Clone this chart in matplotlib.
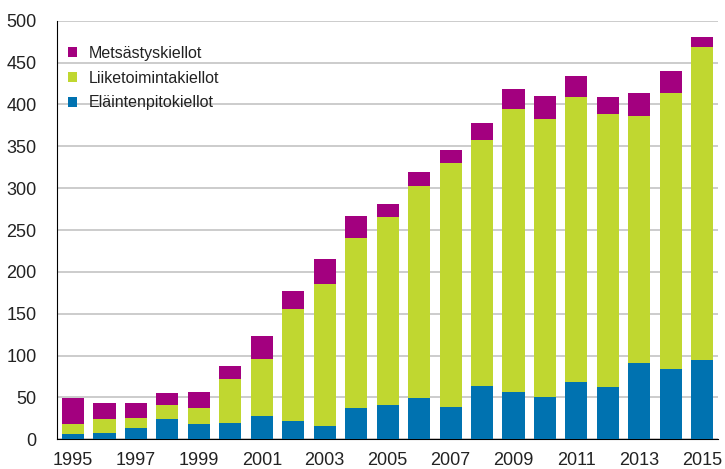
import matplotlib
matplotlib.use("Agg")
import matplotlib.pyplot as plt

years = list(range(1995, 2016))
elainten = [6, 8, 14, 24, 18, 20, 28, 22, 16, 37, 41, 49, 39, 64, 56, 51, 68, 62, 91, 84, 95]
liike = [12, 16, 12, 17, 19, 52, 68, 134, 170, 203, 224, 254, 291, 293, 339, 331, 341, 327, 295, 330, 373]
metsastys = [31, 19, 17, 14, 20, 15, 27, 21, 29, 27, 16, 16, 16, 21, 23, 28, 25, 20, 28, 26, 13]
xlabels = [str(y) for y in years[::2]]

plt.rcParams['font.family'] = ['Liberation Sans', 'DejaVu Sans']

fig = plt.figure(figsize=(7.25, 4.69), dpi=100)
ax = fig.add_axes([57.3/725, 1 - 439.3/469, (718-57.3)/725, (439.3-20.7)/469])

c_blue = '#0072B0'
c_green = '#C0D730'
c_mag = '#A3007F'

bottom2 = [a + b for a, b in zip(elainten, liike)]
b1 = ax.bar(years, elainten, width=0.7, color=c_blue, label='Eläintenpitokiellot', zorder=3)
b2 = ax.bar(years, liike, width=0.7, bottom=elainten, color=c_green, label='Liiketoimintakiellot', zorder=3)
b3 = ax.bar(years, metsastys, width=0.7, bottom=bottom2, color=c_mag, label='Metsästyskiellot', zorder=3)

ax.set_xlim(1994.5, 2015.5)
ax.set_ylim(0, 500)
ax.set_yticks(range(0, 501, 50))
ax.set_xticks(years[::2])
ax.set_xticklabels(xlabels)
ax.yaxis.grid(True, color='#c8c8c8', linewidth=1.3, zorder=0)
ax.set_axisbelow(True)
for s in ['top', 'right']:
    ax.spines[s].set_visible(False)
ax.spines['left'].set_color('black')
ax.spines['bottom'].set_color('black')
ax.tick_params(axis='both', length=0, labelsize=13, colors='#222222')
ax.tick_params(axis='x', pad=9)
ax.tick_params(axis='y', pad=15)

leg = ax.legend(handles=[b3, b2, b1], loc='upper left', bbox_to_anchor=(0.0, 0.967),
                frameon=False, fontsize=11.5, handlelength=0.55, handleheight=0.55,
                handletextpad=0.75, labelspacing=0.62, borderaxespad=0.3)
for t in leg.get_texts():
    t.set_color('#222222')

fig.savefig('out.png', dpi=100)
